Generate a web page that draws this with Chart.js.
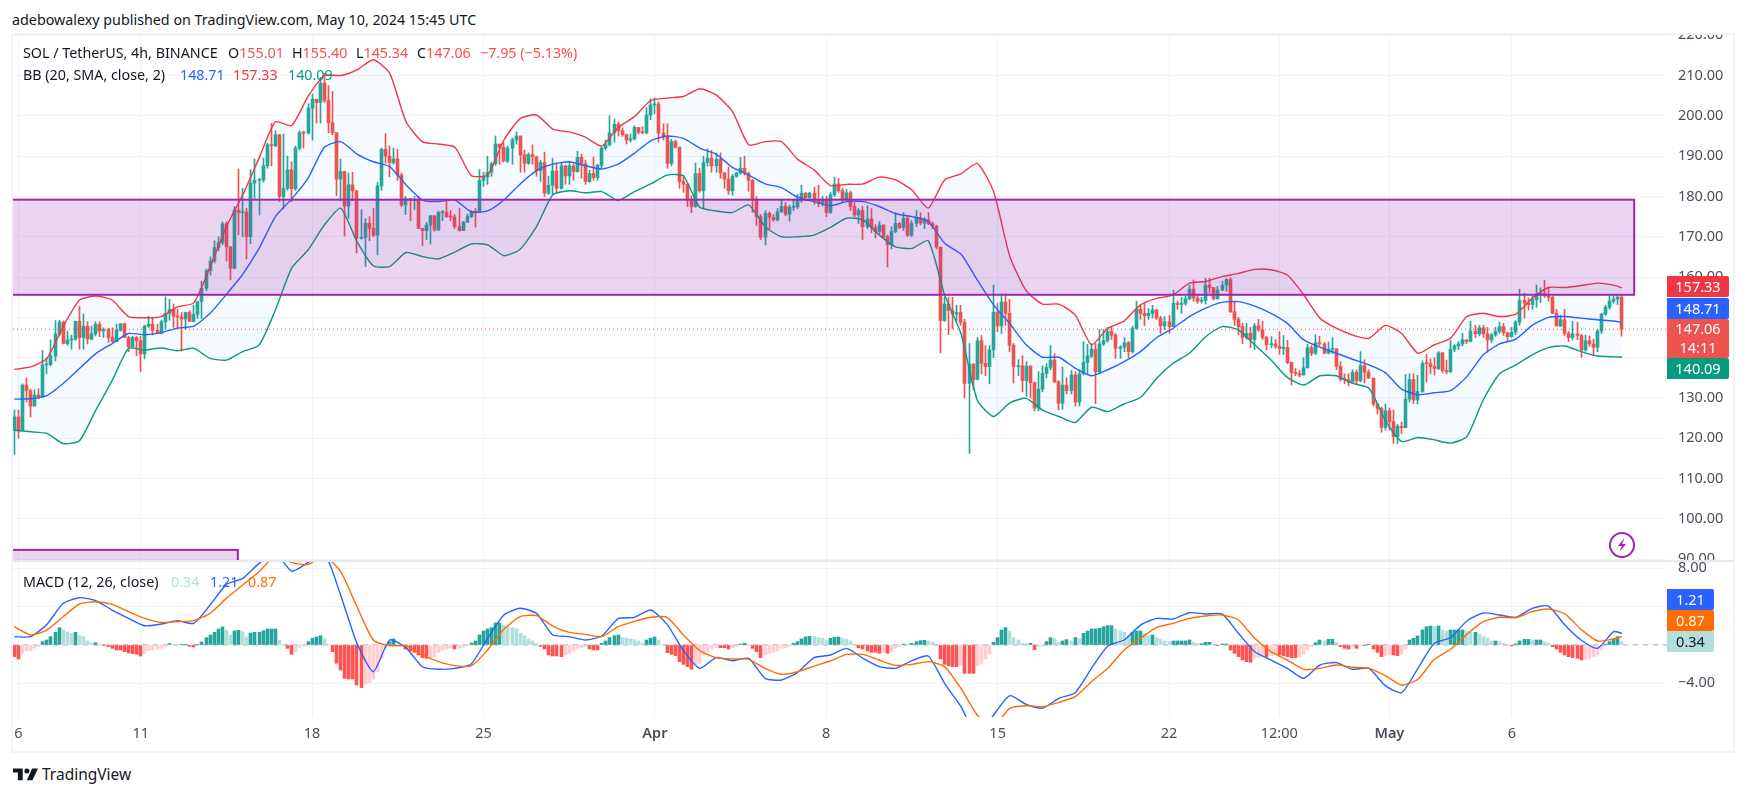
<!DOCTYPE html>
<html>
<head>
<meta charset="utf-8">
<title>SOL / TetherUS 4h</title>
<script src="https://cdn.jsdelivr.net/npm/chart.js@4/dist/chart.umd.min.js"></script>
<style>
  html,body{margin:0;padding:0;background:#fff;}
  body{width:1747px;height:796px;position:relative;overflow:hidden;font-family:"Noto Sans",sans-serif;font-size:14.3px;color:#131722;}
  canvas{position:absolute;left:0;display:block;}
  .t{position:absolute;white-space:nowrap;line-height:20px;height:20px;}
  .b{position:absolute;left:1667px;color:#fff;text-align:center;white-space:nowrap;font-size:14.5px;border-radius:0 2px 2px 0;}
  #topMask{position:absolute;left:0;top:0;width:1747px;height:33px;background:#fff;}
  #frame{position:absolute;left:11px;top:33px;width:1720px;height:716px;border:2px solid #f0f3fa;pointer-events:none;}
  #divider{position:absolute;left:13px;top:560px;width:1720px;height:2px;background:#e6e8f0;}
  .red{color:#ef5350;} .dim{color:#131722;}
</style>
</head>
<body>
<canvas id="priceCanvas" width="1747" height="561" style="top:0"></canvas>
<canvas id="macdCanvas" width="1747" height="190" style="top:561px"></canvas>
<div id="topMask"></div>
<div id="frame"></div>
<div id="divider"></div>

<div class="t" style="left:12px;top:10px;">adebowalexy published on TradingView.com, May 10, 2024 15:45 UTC</div>

<div class="t" style="left:23px;top:43px;">SOL / TetherUS, 4h, BINANCE</div>
<div class="t" style="left:228px;top:43px;">O<span class="red">155.01</span></div>
<div class="t" style="left:292px;top:43px;">H<span class="red">155.40</span></div>
<div class="t" style="left:356px;top:43px;">L<span class="red">145.34</span></div>
<div class="t" style="left:417px;top:43px;">C<span class="red">147.06</span></div>
<div class="t red" style="left:480px;top:43px;">−7.95 (−5.13%)</div>

<div class="t" style="left:23px;top:65px;">BB (20, SMA, close, 2)</div>
<div class="t" style="left:180px;top:65px;color:#2962ff;">148.71</div>
<div class="t" style="left:233px;top:65px;color:#f23645;">157.33</div>
<div class="t" style="left:288px;top:65px;color:#089981;">140.09</div>

<div class="t" style="left:23px;top:572px;">MACD (12, 26, close)</div>
<div class="t" style="left:171px;top:572px;color:#b2dfdb;">0.34</div>
<div class="t" style="left:210px;top:572px;color:#2962ff;">1.21</div>
<div class="t" style="left:248px;top:572px;color:#ff6d00;">0.87</div>

<div class="b" style="top:276px;width:62px;height:21px;line-height:21px;background:#f23645;">157.33</div>
<div class="b" style="top:298px;width:62px;height:21px;line-height:21px;background:#2962ff;">148.71</div>
<div class="b" style="top:319px;width:62px;height:39px;line-height:19px;background:#ef5350;">147.06<br>14:11</div>
<div class="b" style="top:358px;width:62px;height:21px;line-height:21px;background:#089981;">140.09</div>

<div class="b" style="top:589px;width:47px;height:21px;line-height:21px;background:#2962ff;">1.21</div>
<div class="b" style="top:610px;width:47px;height:21px;line-height:21px;background:#ff6d00;">0.87</div>
<div class="b" style="top:631px;width:47px;height:21px;line-height:21px;background:#b2dfdb;color:#131722;">0.34</div>

<svg style="position:absolute;left:1608px;top:531px;" width="28" height="28" viewBox="0 0 28 28">
  <circle cx="14" cy="14" r="12" fill="#fff" stroke="#9c27b0" stroke-width="2"/>
  <path d="M16.5 7 L10 15 L13.8 15 L11.5 21 L18 13 L14.2 13 Z" fill="#9c27b0"/>
</svg>

<svg style="position:absolute;left:13px;top:767px;" width="25" height="14" viewBox="0 0 36 20">
  <path d="M14 2H0v6h7v11h7V2zM28 19h-8l7.5-17H36l-8 17z" fill="#131722"/>
  <circle cx="20" cy="5.5" r="3.6" fill="#131722"/>
</svg>
<div class="t" style="left:42px;top:764px;font-size:15.5px;">TradingView</div>

<script>
// Candle closes, highs and lows, oldest first (4h bars from 5 Mar 20:00 to 10 May 12:00).
const firstOpen = 122;
const closes = [
125.3,122,133.2,131.8,128,130.7,130.3,138.2,138.3,140.4,
145.9,148.8,143.5,144.4,144.6,149,145,147.8,144.6,145.9,
148.3,146.6,147,145,144,146.8,148.4,145,142.7,145,
144.2,140.9,147.8,148.3,146.8,146,148.9,151,152,150.3,
150.1,149.6,151.2,149,150.7,153.9,157.2,161.6,164,167.3,
168.5,173.2,167.5,162.2,176.6,176,176.1,170,183.3,184,
184.1,187.6,192.8,192.6,195.3,180,182,186.6,181.9,192,
195.8,195.7,201.9,204.1,203.3,208.1,203.8,198.3,195.8,184.3,
186.2,177.6,182.9,181.4,169.6,169.8,173.3,172.1,170.4,182.6,
191.7,190,188.4,189.3,185.3,177.9,179.5,179,179.2,172.1,
171.5,172.9,175.2,171.7,176,176.1,175,174.9,172.5,171.5,
173.6,175,176.2,176,184,184.8,186,188.1,193,192.2,
188.8,192,194,195,190.3,188.2,190.4,189.8,186.4,188.4,
180.8,182.8,186.3,182,187.6,185.1,187.6,186.2,189.7,188.1,
183.7,185.7,184.7,187.7,192,192.8,195.8,197.9,196.3,195.3,
194,194.3,197.1,195.9,195.8,200.2,202.7,202.9,195.7,194.8,
188.2,193.6,192.2,183.7,183,179.1,177.5,185.7,181.4,188.4,
189.5,187.6,189.2,185.8,184.3,181.4,185,185.8,187,185.8,
184,179.1,175,169.9,175.8,174.8,174.2,176.2,177.5,175.6,
177.3,177.4,179.1,180.8,179.7,180.8,179.1,178.3,179.3,176,
180.4,183.1,181.4,179.1,180.9,177.5,175.4,176.5,172.5,174.4,
172.3,171.3,172.9,170,168,171.3,173.3,172.3,174.6,170.4,
173.3,174.6,173.4,174.2,173.2,172.6,167.4,149.2,153.3,151.7,
150.8,151.2,148.8,133.6,138.4,134.6,144.2,138.6,137.8,141.9,
151.3,147.9,153.8,151,143.1,137.8,138,134.3,137.9,133.8,
127.5,132.2,136.1,137.6,139.4,134,128.7,133.2,131.8,135.7,
129,136,138.8,140.4,142.1,136.5,143.4,144.2,146.5,145.6,
142.3,142.6,143.7,141.5,147.3,152,151,150.4,151,151.8,
149.8,147.9,148.9,147.7,153.5,153.2,153.5,154.6,157,154.8,
154,154.2,158,157.4,154.6,156.8,158,159.4,151.4,149.5,
147.7,145,146,144.5,147.9,146.9,145,143.2,143.4,142.8,
142.3,142.5,138.8,136.3,136.1,135.7,137.5,142.5,141.1,143.7,
143.4,141.1,142.1,142.2,137.8,134.6,134.5,133.9,136.4,134.3,
138,136.4,134.9,128.5,127.4,122.7,126.8,124.1,120.4,123,
122.6,129.7,134.6,129.5,131.6,138.6,138.5,137.8,137.3,141.2,
136.8,136.5,142.1,142.9,143.4,144.4,144,146.6,145.9,147.4,
145.9,144.4,145.6,146.5,147.7,146.2,145.2,146.3,148.8,154.2,
153.5,153.2,154.4,155.8,156,155.4,155,151,147.9,149.4,
146,145,145.9,145.5,141.9,144.2,143.4,142.6,146.6,150.8,
152.5,154,154.5,155.01,147.06];
const highs = [
127,127,133.5,134.9,132.2,132,132.3,141.8,140,144.4,
149.2,149.3,149.1,146.6,145.6,149.1,152.8,150.8,148.9,147.8,
148.9,148.9,147.4,147.3,147.4,148.3,148.5,148.6,145.3,145.3,
145.3,145.3,148.1,150.3,150,148.3,149.3,155.1,154.5,153.3,
152,151.2,151.3,151.7,153,153.9,159,162,165,169,
170,173.7,173.7,167.5,177.5,186.8,182,177,186.6,189.3,
184.5,189.5,193.2,198.1,196.3,195.4,195.5,190,188.6,192.5,
196.3,196.2,203,205.4,204.1,209.5,210.5,207.5,206,195.8,
189.3,186.2,185.8,186,181.4,176.7,174.5,175,177,183.5,
192,195.6,192.5,192,191.7,185.8,180,179.5,180,180,
172.1,173.6,175.3,175.2,176.4,176.5,179,176.5,175.5,177,
173.8,175.6,176.5,177,186.7,186,190,188.5,195,193,
193.5,192.5,194.5,196,195,191.5,190.8,192.8,190,189,
191,185,189.5,188.3,188.5,187.7,188.8,188,191.2,190.5,
189,186.5,189.8,188,192.2,194,200,199.2,198.5,197,
195.5,195.5,197.5,197,197.3,202,204.2,204.5,203.5,198,
198,194.2,194,192.3,185.2,183.2,180.2,188.3,187,190,
191.8,191.4,190.8,190.8,186,187.3,185.5,186,189.7,190,
186,184.2,180,175.5,176.5,176.2,175.5,177,179,178.5,
177.8,179.2,180.5,182.8,181,181,182.3,182.8,180,180,
181,184.8,184.5,182,181.7,181.3,178.5,177,177.5,177.7,
177,173,173.8,173,170.4,172.5,176,173.5,176,175,
174,176.5,176,174.8,176,173.7,172.9,167.5,155,155,
155,153,153,149.5,143.5,138.5,145,145.5,143,143,
158,153.5,155.8,155.8,154.5,143.5,139.5,140.5,139,138,
134,136.5,138,138.5,143,141,134.3,137.7,135,136.8,
136.5,137,144,143.3,143.5,143.5,147,147,147.5,147.5,
146,143,145,144,147.8,154,153,153.5,152.2,153,
152,150.3,150.2,150.5,156.7,154,155,155.2,158,159.3,
155.5,155,159.7,159.7,157.4,157.7,159,159.6,159.8,153.8,
150,148.5,148.5,147.5,148.5,149.5,149,145.3,145.2,144.5,
146.5,145.5,144.3,138.9,137.3,136.8,140,143.3,143,145.7,
145.3,143.8,143.9,145,142.2,139,136,136,137,137,
141.5,139.5,137,135,128.6,127.8,128.5,127.5,127,123.5,
124,135.8,136,136,135.6,139.2,140.8,139.7,140,141.5,
141.3,139.4,144.3,143.2,144,146,144.5,149,148,148,
148,147.5,146,147.5,148.8,148.5,146.3,147.5,149.2,157,
156,154.8,155.3,158,157.3,159.2,157.3,155.2,152,150.5,
152,146.5,149,148.8,145.8,145.6,145.4,144.6,147,151,
153,155.5,155.7,155.5,155.4];
const lows = [
116,120,122,129,125.3,128,129.8,130.3,136,138,
139.2,145.4,143.4,143.1,142.1,144.3,142.1,142.1,143.4,144.4,
145.4,145.2,145,143.8,143.8,144,146.6,145,141.5,142.5,
140.5,136.5,139.7,147.5,145.6,145.9,146,147,149.3,147.5,
147.3,141.6,147,149,148.9,149.7,149.7,156.6,160.5,163.5,
166.5,168,164,159.3,162,170.5,170,164.5,168.3,179.5,
175.4,183.5,187,187.6,192.3,178.7,177,181.5,178.7,181.5,
191.5,192,195.5,194,198.2,198.2,203.3,195.8,195.3,180.2,
179,170.2,174.6,179,166,169.4,162.6,169,170,165.5,
181.5,188.2,184.9,188,184,177.5,175.5,174,176.7,172,
167.8,169.3,168.2,171.4,171.5,174,174.8,174,172,171.4,
171.5,173.5,174.7,172.4,176,182.5,183,185,187.7,188,
188.5,188.4,188,193,186,186,188,188,185,183.7,
180,180.5,180.5,181,181.8,183,183,184,186,184.5,
183,183.5,184,184,187,191.5,192.5,193.5,195,194.9,
193,193.5,194,195.5,195.5,195.5,199,200.5,193.5,194,
187,187.6,192,182,181,177.5,176,177.3,181,177,
187.5,186,186,184.5,182,180.5,180.3,184.7,185.5,185.3,
181.3,176,172.8,169.3,168,172,173.8,173.9,176,175.2,
173.9,176.5,177,178.5,179,179.3,178,177.5,177.6,175,
175.8,180,181,178.5,179,176.5,175,173.3,169.3,172,
171,169.7,170.7,169.5,162.5,167,171,172,171.5,170,
170,172.5,173,172,173,172,167,141.2,149,145.7,
147.2,149,148,130,116.2,132,134.5,136,135.5,133.5,
140,146.5,146,148,141.5,133.7,135.5,131.5,130.4,130,
126.8,126.8,131.5,135,137,133.8,127,127.2,131,131,
128,128,135.7,136,140,128.6,136,143,143.8,144.5,
139.8,139.8,141.5,140,141.1,147,149.5,148,149.5,149.8,
149.5,146,147,146,150,152,151,153,154.4,154,
153.5,153.5,153.3,156,154.3,154.5,156.6,156.5,151.2,148,
145.7,143.5,144.5,142.5,142,146.5,144.5,141.9,142.5,142.3,
140.8,140.8,138.5,133.2,135.5,135.2,135.7,137.4,140.5,140.8,
143,141,140.9,141,137,134.2,133.5,133,134,133.5,
134,133.7,134.8,128,126,121.5,122,122,118.7,118.7,
121.2,122.8,129,128.6,128.5,131.4,134,136,135.7,137,
136.3,136,136.3,141.5,142,142.9,143.5,143.9,145,145.4,
145,141.3,143.8,145.3,146,145.5,144,145,145.7,148,
149.8,151.8,152,152.5,153.7,154.9,154,150.9,147.8,147.7,
145.5,144,144.4,144.5,140.1,141.6,142.8,140.6,141.5,146,
150.5,152,153.5,153.2,145.34];

// Bollinger bands and MACD lines, read every fourth bar plus the final bar.
const sampleBars = [];
for (let k = 0; k <= 392; k += 4) sampleBars.push(k);
sampleBars.push(394);

const bbUpper = [137.1,137.7,139.8,147.7,154.3,155.3,154.3,150.2,149.9,150.2,152.6,153.6,162.5,172.5,180.4,189.5,198.5,197.6,204.8,210,210,211.4,213.9,210.6,198.6,193.6,193,192.2,185.2,185.3,194,199.3,200.2,196.7,196,194.7,192.5,197.1,199.8,203.8,204.4,204.8,206.7,205.2,201.1,192.8,193.6,193.6,189.2,186.6,182.7,183,183.1,184.8,184.1,181.6,177.1,184.1,185.6,188.2,181.2,165.1,156.6,153.3,153.3,150.6,143.2,147.3,149.1,153.1,154.7,155.6,158.5,158.9,160.1,160.9,161.9,161.8,160.5,155.6,149.8,147.3,145.6,144.8,148,146,141.1,143.2,144.8,150.2,151,150.2,150.8,154.7,157.4,157.4,157.9,158.5,158,157.33];
const bbBasis = [129.7,129.8,130.6,133.6,137.3,141,143.5,146,145.7,146.2,147.3,147.8,151,155.7,160.7,167.1,175,179.4,184.5,192.2,193.6,190.5,188.6,187.4,182.9,179.1,178.7,179.1,176.2,176.4,179.1,183.1,186.4,188,188.6,187.6,186.8,188,190.7,193.8,195,194.4,192,190.5,187.2,185.3,183.1,182.2,179.8,178.7,177.7,178.7,178.7,177.5,175.7,175,173.8,168.4,165.7,159.3,153.1,148.4,143.2,140.1,140.1,137.4,135.5,137,139,141.5,145,147.3,150.2,152.3,153.7,153.9,152.8,151,148.5,144.4,142.6,141.1,139.6,138.2,136.3,132.2,130.8,131.3,131.8,135.3,140.7,143.4,144.6,148,150,150.2,149.8,149.4,149.1,148.71];
const bbLower = [122,121.6,121.2,118.7,119.4,127,134.3,142.3,141.9,142.4,141.7,142.3,139.8,139.4,141.5,143.1,151.8,162.2,166.7,172.9,177.1,168.8,162.8,162.6,166.1,165.1,164.5,166.2,168.2,168,165.3,166.9,172.5,180.4,181.4,180.9,181.2,179,181.2,183.1,185.3,185.1,177.3,176.4,176,177.9,172.5,170,170,170.4,172.3,174.6,174.2,170.4,167.5,167.1,169,155.6,146,129.5,125.4,128.8,129.9,127,125.4,123.9,127.7,126.6,128.5,130.1,134.9,138.6,141.1,145.2,147.7,146.9,143.2,139.4,135.1,133.2,135.5,135.5,133.6,132.4,124.5,119.2,120.2,119.6,118.8,120.4,129.5,136,138.2,140.7,142.5,142.9,141.5,140.4,140.2,140.09];

const macdLine = [.87,.87,2.15,4.35,4.94,4.62,3.65,2.78,2.01,2.19,2.54,2.26,4.17,6.33,6.95,8.52,9.6,7.7,8.6,9.6,5.2,.17,-2.79,.52,-.28,-2.27,-2.54,-2.44,-1.98,.7,3.13,3.83,3.3,1.04,.87,.52,.94,2.75,2.89,3.65,2.15,-.59,-2.44,-1.32,-1.64,-1.39,-3.48,-3.66,-2.86,-1.32,-1.05,-.35,-1.39,-2.26,-2.44,-1.64,-1.15,-4,-6.44,-9.5,-7.31,-5.29,-6.2,-6.6,-5.57,-4.98,-2.44,-.11,.52,2.08,2.78,2.71,3.37,3.24,3.24,1.22,-.7,-1.57,-2.44,-3.48,-2.09,-1.84,-2.54,-2.44,-4.25,-4.98,-2.44,.17,.77,2.5,3.34,3.13,2.89,3.83,4.07,2.09,.52,-.35,1.39,1.21];
const signalLine = [1.91,1.04,1.56,2.95,4.28,4.52,4.24,3.48,2.78,2.36,2.43,2.54,3.3,4.87,6.26,7.65,9.3,8.6,8.4,9.3,7.65,3.99,.52,-.07,-.1,-1.04,-1.74,-2.16,-2.19,-.52,1.64,2.96,3.06,1.98,1.32,1.11,.87,1.91,2.47,2.89,2.89,1.04,-.59,-1.32,-1.46,-1.5,-2.44,-3.06,-2.79,-2.2,-1.67,-.98,-.98,-1.57,-2.13,-2.02,-1.74,-2.26,-4.53,-7.31,-8.5,-6.6,-6.34,-6.44,-5.99,-5.4,-3.83,-2.44,-.52,.69,1.84,2.26,2.78,3.03,3.13,2.61,.7,-.7,-1.57,-2.54,-2.44,-2.09,-2.33,-2.44,-3.2,-4.18,-3.58,-1.5,-.45,1.11,2.43,2.89,2.85,3.48,3.76,3.24,1.63,.42,.63,.87];
const macdHist = [
-1.22,-1.46,-.87,-.63,-.59,-.35,-.17,.35,.52,.87,
1.32,1.81,1.57,1.39,1.22,1.32,.97,.87,.42,.21,
.24,.02,-.03,-.17,-.35,-.52,-.52,-.7,-.84,-.9,
-.97,-1.15,-.87,-.59,-.52,-.45,-.35,-.21,.14,.07,
.03,.03,.03,-.14,-.21,.07,.31,.77,1.04,1.32,
1.67,1.88,1.53,1.04,1.46,1.53,1.39,.87,1.25,1.32,
1.32,1.5,1.67,1.67,1.67,.52,0,-.35,-.97,-.7,
-.24,-.1,.35,.7,.84,.97,.63,0,-.7,-1.91,
-2.61,-3.48,-3.55,-3.55,-4.18,-4.45,-4.11,-3.93,-3.58,-2.78,
-1.39,-.35,.35,.63,.07,-.1,-.42,-.63,-.77,-1.04,
-1.32,-1.39,-1.32,-1.22,-.77,-.52,-.42,-.28,-.42,-.35,
-.24,-.1,.21,.42,1.04,1.46,1.67,1.81,2.3,2.3,
2.09,1.91,1.81,1.67,1.22,.97,.63,.42,.17,-.14,
-.42,-1.04,-1.15,-1.15,-1.22,-1.04,-.87,-.63,-.42,-.28,
-.17,-.42,-.52,-.52,.17,.42,.77,.97,1.04,.77,
.7,.63,.56,.42,.17,.52,.7,.84,.52,0,
-.8,-.97,-1.11,-1.74,-2.02,-2.26,-2.54,-2.09,-1.91,-1.04,
-.77,-.42,-.28,-.28,-.28,-.42,-.28,-.17,.1,.17,
0,-.35,-.7,-1.32,-1.04,-.87,-.77,-.63,-.35,-.28,
-.17,.17,.35,.63,.84,.9,.87,.77,.7,.49,
.7,.8,.84,.7,.63,.42,0,-.28,-.42,-.63,
-.77,-.77,-.87,-.77,-.87,-.7,-.35,-.17,.1,.07,
.17,.35,.45,.49,.42,.28,0,-1.46,-2.02,-2.16,
-2.26,-2.26,-2.16,-2.96,-2.96,-2.96,-2.16,-1.91,-1.46,-.97,
.28,.77,1.57,1.81,1.46,.77,.52,.17,.14,.17,
-.49,-.17,-.1,.35,.77,.7,.28,.42,.56,.42,
.77,.63,1.22,1.46,1.67,1.67,1.74,1.91,2.02,2.02,
1.67,1.46,1.32,.97,1.32,1.46,1.46,1.22,.97,1.04,
.77,.63,.42,.35,.42,.42,.42,.42,.52,.28,
.14,.14,.28,.28,.07,-.07,.1,.1,-.52,-.87,
-1.22,-1.57,-1.74,-1.81,-1.39,-1.32,-1.22,-1.22,-1.11,-1.04,
-1.04,-1.11,-1.22,-1.32,-1.32,-1.22,-.97,-.52,-.17,.24,
.52,.42,.59,.59,.28,-.17,-.35,-.42,-.17,-.35,
-.07,-.07,.07,-.42,-.77,-1.22,-1.11,-1.04,-1.04,-1.11,
-.97,-.42,.52,.7,.94,1.57,1.91,1.98,1.91,1.98,
1.57,1.46,1.57,1.57,1.57,1.57,1.46,1.32,1.32,1.11,
.87,.7,.42,.42,.35,.17,.07,-.1,.1,.42,
.59,.59,.52,.52,.52,.35,.17,-.17,-.42,-.77,
-1.04,-1.22,-1.32,-1.39,-1.57,-1.46,-1.39,-1.22,-1.04,-.52,
.1,.35,.63,.87,.34];

// Time axis ticks: bar position and label of each date gridline.
const timeTickBars = [1,31,73,115,157,199,241,283,310,337,367];
const timeTickLabels = ['6','11','18','25','Apr','8','15','22','12:00','May','6'];
const monthLabels = ['Apr','May'];

// Supply zones drawn as purple rectangles: price limits and bar range.
const zoneTops = [179.2, 92.3];
const zoneBottoms = [155.6, 68.7];
const zoneStarts = [-3, -3];
const zoneEnds = [397, 54.8];

const lastClose = 147.06;
const barRange = { min: -0.3, max: 405.04 };
const priceRange = { min: 89.55, max: 220.3 };
const macdRange = { min: -7.52, max: 8.77 };

const BULL = '#26a69a', BEAR = '#ef5350', GRID = '#f0f3fa', LABEL = '#4a4e59';
const AXIS_FONT = { family: '"Noto Sans", sans-serif', size: 14.5 };

const opens = [firstOpen, ...closes.slice(0, -1)];
const candleColors = closes.map((c, i) => (c >= opens[i] ? BULL : BEAR));
const histColors = macdHist.map((v, i) => {
  const prev = i ? macdHist[i - 1] : v;
  if (v >= 0) return v >= prev ? '#26a69a' : '#b2dfdb';
  return v <= prev ? '#ff5252' : '#ffcdd2';
});
const series = values => values.map((y, i) => ({ x: sampleBars[i], y }));

// Keeps candle and histogram columns on whole pixels so thin wicks stay sharp.
const snapBars = {
  id: 'snapBars',
  afterDatasetsUpdate(chart) {
    chart.data.datasets.forEach((d, i) => {
      const meta = chart.getDatasetMeta(i);
      if (meta.type === 'bar') meta.data.forEach(el => { el.x = Math.floor(el.x) + 0.5; });
    });
  }
};

const zonesPlugin = {
  id: 'zones',
  afterDatasetsDraw(chart) {
    const { ctx, chartArea: a, scales: { x, y } } = chart;
    ctx.save();
    ctx.beginPath();
    ctx.rect(a.left, a.top, a.right - a.left, a.bottom - a.top);
    ctx.clip();
    zoneTops.forEach((top, i) => {
      const x0 = x.getPixelForValue(zoneStarts[i]), x1 = x.getPixelForValue(zoneEnds[i]);
      const y0 = y.getPixelForValue(top), y1 = y.getPixelForValue(zoneBottoms[i]);
      ctx.fillStyle = 'rgba(156,39,176,0.2)';
      ctx.fillRect(x0, y0, x1 - x0, y1 - y0);
      ctx.strokeStyle = '#9c27b0';
      ctx.lineWidth = 2;
      ctx.strokeRect(x0, y0, x1 - x0, y1 - y0);
    });
    ctx.restore();
  }
};

function timeAxis(showLabels) {
  return {
    type: 'linear',
    offset: false,
    min: barRange.min,
    max: barRange.max,
    border: { display: false },
    grid: { color: GRID, drawTicks: false, lineWidth: 1, offset: false },
    afterBuildTicks(scale) { scale.ticks = timeTickBars.map(value => ({ value })); },
    afterFit(scale) {
      scale.height = showLabels ? 34 : 0;
      scale.paddingLeft = 0;
      scale.paddingRight = 0;
    },
    ticks: {
      display: showLabels,
      autoSkip: false,
      maxRotation: 0,
      padding: 8,
      color: LABEL,
      font: ctx => {
        const label = timeTickLabels[ctx.index];
        return monthLabels.includes(label) ? { ...AXIS_FONT, weight: '600' } : AXIS_FONT;
      },
      callback: value => timeTickLabels[timeTickBars.indexOf(value)]
    }
  };
}

function valueAxis(range, step) {
  return {
    position: 'right',
    min: range.min,
    max: range.max,
    border: { display: false },
    grid: { color: GRID, drawTicks: false, lineWidth: 1 },
    afterFit(scale) { scale.width = 80; scale.paddingTop = 0; scale.paddingBottom = 0; },
    ticks: {
      stepSize: step,
      includeBounds: false,
      padding: 11,
      color: LABEL,
      font: AXIS_FONT,
      callback: v => v.toFixed(2).replace('-', '−')
    }
  };
}

const baseOptions = {
  responsive: false,
  animation: false,
  events: [],
  plugins: { legend: { display: false }, tooltip: { enabled: false } },
};

const barDefaults = { grouped: false, borderWidth: 0, borderSkipped: false };
const LINE_WIDTH = 1.4;

new Chart(document.getElementById('priceCanvas'), {
  data: {
    datasets: [
      { type: 'line', order: 6, data: series(bbUpper), borderWidth: 0, pointRadius: 0, tension: 0.2,
        fill: { target: 1 }, backgroundColor: 'rgba(33,150,243,0.05)' },
      { type: 'line', order: 7, data: series(bbLower), borderWidth: 0, pointRadius: 0, tension: 0.2, fill: false },
      { type: 'bar', order: 5, ...barDefaults, barThickness: 1,
        data: closes.map((c, i) => ({ x: i, y: [lows[i], highs[i]] })), backgroundColor: candleColors },
      { type: 'bar', order: 4, ...barDefaults, barThickness: 3, minBarLength: 1,
        data: closes.map((c, i) => ({ x: i, y: [opens[i], c] })), backgroundColor: candleColors },
      { type: 'line', order: 3, data: series(bbUpper), borderColor: '#f23645', borderWidth: LINE_WIDTH, pointRadius: 0, tension: 0.2 },
      { type: 'line', order: 3, data: series(bbBasis), borderColor: '#2962ff', borderWidth: LINE_WIDTH, pointRadius: 0, tension: 0.2 },
      { type: 'line', order: 3, data: series(bbLower), borderColor: '#089981', borderWidth: LINE_WIDTH, pointRadius: 0, tension: 0.2 },
      { type: 'line', order: 2, data: [{ x: barRange.min, y: lastClose }, { x: barRange.max, y: lastClose }],
        borderColor: '#ef5350', borderWidth: 1, borderDash: [1, 3], pointRadius: 0 }
    ]
  },
  options: {
    ...baseOptions,
    layout: { autoPadding: false, padding: { left: 13, top: 34, right: 0, bottom: 0 } },
    scales: { x: timeAxis(false), y: valueAxis(priceRange, 10) }
  },
  plugins: [snapBars, zonesPlugin]
});

new Chart(document.getElementById('macdCanvas'), {
  data: {
    datasets: [
      { type: 'line', order: 5, data: [{ x: barRange.min, y: 0 }, { x: barRange.max, y: 0 }],
        borderColor: 'rgba(120,123,134,0.6)', borderWidth: 1, borderDash: [5, 5], pointRadius: 0 },
      { type: 'bar', order: 4, ...barDefaults, barThickness: 3,
        data: macdHist.map((y, i) => ({ x: i, y })), backgroundColor: histColors },
      { type: 'line', order: 3, data: series(macdLine), borderColor: '#2962ff', borderWidth: LINE_WIDTH, pointRadius: 0, tension: 0.2 },
      { type: 'line', order: 2, data: series(signalLine), borderColor: '#ff6d00', borderWidth: LINE_WIDTH, pointRadius: 0, tension: 0.2 }
    ]
  },
  options: {
    ...baseOptions,
    layout: { autoPadding: false, padding: { left: 13, top: 0, right: 0, bottom: 0 } },
    scales: { x: timeAxis(true), y: valueAxis(macdRange, 4) }
  },
  plugins: [snapBars]
});
</script>
</body>
</html>
